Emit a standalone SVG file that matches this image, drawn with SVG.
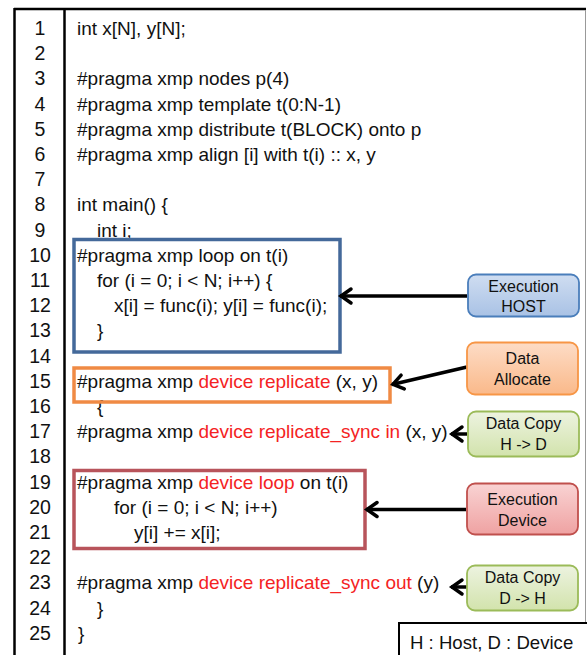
<svg xmlns="http://www.w3.org/2000/svg" width="587" height="655" viewBox="0 0 587 655">
  <style>
    text { font-family: "Liberation Sans", Arial, sans-serif; fill: #111; }
    .code { font-size: 19px; }
    .num { font-size: 19.5px; text-anchor: middle; }
    .red { fill: #F42323; }
    .lbl { font-size: 16px; text-anchor: middle; }
    .conn { stroke: #000; stroke-width: 3.5; fill: none; marker-end: url(#arr); }
  </style>
  <defs>
    <marker id="arr" markerUnits="userSpaceOnUse" markerWidth="20" markerHeight="20" viewBox="-14 -10 16 20" refX="0" refY="0" orient="auto">
      <path d="M-11,-7 L-1,0 L-11,7" fill="none" stroke="#000" stroke-width="3.5" stroke-linejoin="miter" stroke-linecap="round"/>
    </marker>
    <linearGradient id="gBlue" x1="0" y1="0" x2="0" y2="1">
      <stop offset="0" stop-color="#CFDDF1"/><stop offset="1" stop-color="#A9C2E5"/>
    </linearGradient>
    <linearGradient id="gOrange" x1="0" y1="0" x2="0" y2="1">
      <stop offset="0" stop-color="#FDDCC6"/><stop offset="1" stop-color="#FAB98A"/>
    </linearGradient>
    <linearGradient id="gGreen" x1="0" y1="0" x2="0" y2="1">
      <stop offset="0" stop-color="#EDF3E0"/><stop offset="1" stop-color="#D2E3AC"/>
    </linearGradient>
    <linearGradient id="gRed" x1="0" y1="0" x2="0" y2="1">
      <stop offset="0" stop-color="#F9D3D3"/><stop offset="1" stop-color="#EFA2A2"/>
    </linearGradient>
  </defs>

  <rect x="0" y="0" width="587" height="655" fill="#fff"/>

  <!-- table frame -->
  <g id="table">
    <line x1="14" y1="9" x2="586" y2="9" stroke="#000" stroke-width="2.5"/>
    <line x1="14.5" y1="8" x2="14.5" y2="655" stroke="#000" stroke-width="2.5"/>
    <line x1="64.5" y1="9" x2="64.5" y2="655" stroke="#000" stroke-width="2.5"/>
    <line x1="585.5" y1="10" x2="585.5" y2="655" stroke="#999" stroke-width="1"/>
  </g>

  <!-- line numbers -->
  <g id="line-numbers">
    <text class="num" x="40" y="35">1</text>
    <text class="num" x="40" y="60.2">2</text>
    <text class="num" x="40" y="85.4">3</text>
    <text class="num" x="40" y="110.6">4</text>
    <text class="num" x="40" y="135.8">5</text>
    <text class="num" x="40" y="161">6</text>
    <text class="num" x="40" y="186.2">7</text>
    <text class="num" x="40" y="211.4">8</text>
    <text class="num" x="40" y="236.6">9</text>
    <text class="num" x="40" y="261.8">10</text>
    <text class="num" x="40" y="287">11</text>
    <text class="num" x="40" y="312.2">12</text>
    <text class="num" x="40" y="337.4">13</text>
    <text class="num" x="40" y="362.6">14</text>
    <text class="num" x="40" y="387.8">15</text>
    <text class="num" x="40" y="413">16</text>
    <text class="num" x="40" y="438.2">17</text>
    <text class="num" x="40" y="463.4">18</text>
    <text class="num" x="40" y="488.6">19</text>
    <text class="num" x="40" y="513.8">20</text>
    <text class="num" x="40" y="539">21</text>
    <text class="num" x="40" y="564.2">22</text>
    <text class="num" x="40" y="589.4">23</text>
    <text class="num" x="40" y="614.6">24</text>
    <text class="num" x="40" y="639.8">25</text>
  </g>

  <!-- code -->
  <g id="code">
    <text class="code" x="77" y="35">int x[N], y[N];</text>
    <text class="code" x="77" y="85.4">#pragma xmp nodes p(4)</text>
    <text class="code" x="77" y="110.6">#pragma xmp template t(0:N-1)</text>
    <text class="code" x="77" y="135.8">#pragma xmp distribute t(BLOCK) onto p</text>
    <text class="code" x="77" y="161">#pragma xmp align [i] with t(i) :: x, y</text>
    <text class="code" x="77" y="211.4">int main() {</text>
    <text class="code" x="97" y="236.6">int i;</text>
    <text class="code" x="77" y="261.8">#pragma xmp loop on t(i)</text>
    <text class="code" x="97" y="287">for (i = 0; i &lt; N; i++) {</text>
    <text class="code" x="114" y="312.2">x[i] = func(i); y[i] = func(i);</text>
    <text class="code" x="97" y="337.4">}</text>
    <text class="code" x="77" y="387.8">#pragma xmp <tspan class="red">device replicate</tspan> (x, y)</text>
    <text class="code" x="97" y="413">{</text>
    <text class="code" x="77" y="438.2">#pragma xmp <tspan class="red">device replicate_sync in</tspan> (x, y)</text>
    <text class="code" x="77" y="488.6">#pragma xmp <tspan class="red">device loop</tspan> on t(i)</text>
    <text class="code" x="114" y="513.8">for (i = 0; i &lt; N; i++)</text>
    <text class="code" x="134" y="539">y[i] += x[i];</text>
    <text class="code" x="77" y="589.4">#pragma xmp <tspan class="red">device replicate_sync out</tspan> (y)</text>
    <text class="code" x="97" y="614.6">}</text>
    <text class="code" x="78" y="639.8">}</text>
  </g>

  <!-- highlight boxes -->
  <g id="host-loop-box">
    <rect x="74" y="239.5" width="266" height="112.5" fill="none" stroke="#44699A" stroke-width="3.5"/>
  </g>
  <g id="replicate-box">
    <rect x="74" y="368" width="316" height="34" fill="none" stroke="#F08A44" stroke-width="3.5"/>
  </g>
  <g id="device-loop-box">
    <rect x="74" y="470.5" width="291" height="78" fill="none" stroke="#B8545B" stroke-width="3.5"/>
  </g>

  <!-- connectors -->
  <g id="connectors">
    <line class="conn" x1="467" y1="296" x2="340" y2="296"/>
    <line class="conn" x1="467" y1="367" x2="392" y2="384.5"/>
    <line class="conn" x1="467" y1="434" x2="451" y2="434"/>
    <line class="conn" x1="466" y1="509.5" x2="366" y2="509.5"/>
    <line class="conn" x1="467" y1="587" x2="451" y2="587"/>
  </g>

  <!-- side nodes -->
  <g id="exec-host">
    <rect x="468" y="274.5" width="111" height="42" rx="8" fill="url(#gBlue)" stroke="#4A7EBB" stroke-width="1.8"/>
    <text class="lbl" x="523.5" y="291.5">Execution</text>
    <text class="lbl" x="523.5" y="311.5">HOST</text>
  </g>
  <g id="data-allocate">
    <rect x="467" y="342.5" width="111" height="52" rx="8" fill="url(#gOrange)" stroke="#F79646" stroke-width="1.8"/>
    <text class="lbl" x="522.5" y="364">Data</text>
    <text class="lbl" x="522.5" y="385">Allocate</text>
  </g>
  <g id="data-copy-h2d">
    <rect x="468" y="411.5" width="111" height="45" rx="8" fill="url(#gGreen)" stroke="#9BBB59" stroke-width="1.8"/>
    <text class="lbl" x="523.5" y="429">Data Copy</text>
    <text class="lbl" x="523.5" y="450">H -&gt; D</text>
  </g>
  <g id="exec-device">
    <rect x="467" y="483.5" width="111" height="51" rx="8" fill="url(#gRed)" stroke="#C0504D" stroke-width="1.8"/>
    <text class="lbl" x="522.5" y="505">Execution</text>
    <text class="lbl" x="522.5" y="526">Device</text>
  </g>
  <g id="data-copy-d2h">
    <rect x="467" y="565.5" width="111" height="45" rx="8" fill="url(#gGreen)" stroke="#9BBB59" stroke-width="1.8"/>
    <text class="lbl" x="522.5" y="583">Data Copy</text>
    <text class="lbl" x="522.5" y="604">D -&gt; H</text>
  </g>

  <!-- legend -->
  <g id="legend">
    <rect x="399" y="623" width="200" height="50" fill="#fff" stroke="#000" stroke-width="2"/>
    <text x="410" y="648.5" style="font-size:18.6px">H : Host, D : Device</text>
  </g>
</svg>
